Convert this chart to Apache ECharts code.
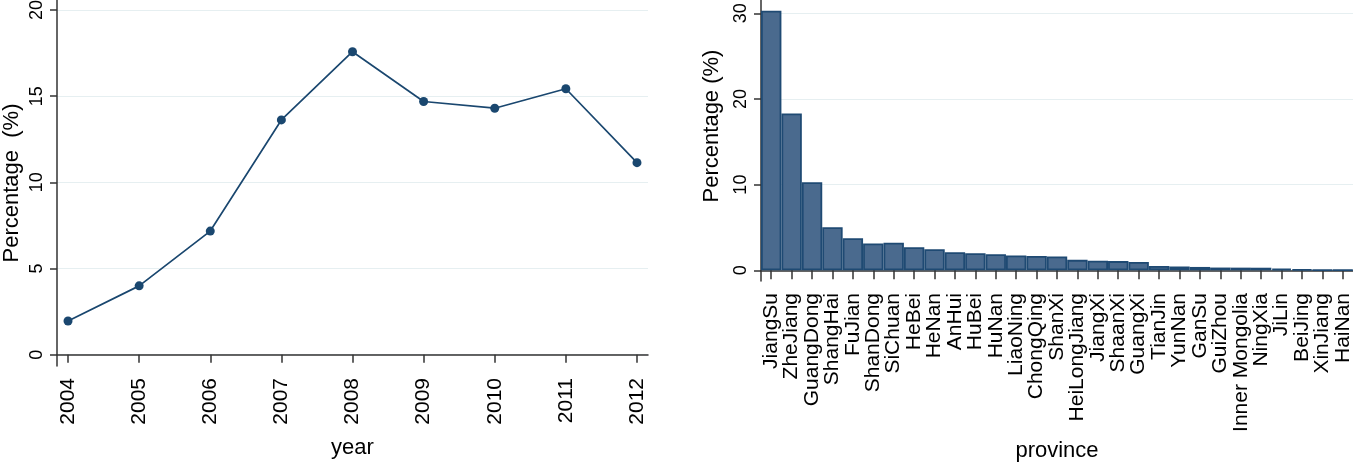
<!DOCTYPE html>
<html>
<head>
<meta charset="utf-8">
<script src="https://cdn.jsdelivr.net/npm/echarts@6/dist/echarts.min.js"></script>
<style>
html,body{margin:0;padding:0;background:#fff;}
#chart{width:1353px;height:462px;}
</style>
</head>
<body>
<div id="chart"></div>
<script>
const years = [2004, 2005, 2006, 2007, 2008, 2009, 2010, 2011, 2012];
const yearPct = [1.95, 3.99, 7.17, 13.62, 17.58, 14.69, 14.30, 15.43, 11.14];
const leftTicks = [0, 5, 10, 15, 20];

const provinces = ['JiangSu','ZheJiang','GuangDong','ShangHai','FuJian','ShanDong','SiChuan','HeBei','HeNan','AnHui','HuBei','HuNan','LiaoNing','ChongQing','ShanXi','HeiLongJiang','JiangXi','ShaanXi','GuangXi','TianJin','YunNan','GanSu','GuiZhou','Inner Mongolia','NingXia','JiLin','BeiJing','XinJiang','HaiNan'];
const provPct = [30.3, 18.3, 10.28, 5.02, 3.74, 3.13, 3.21, 2.70, 2.45, 2.12, 1.99, 1.87, 1.73, 1.67, 1.61, 1.22, 1.12, 1.07, 0.97, 0.50, 0.43, 0.39, 0.32, 0.31, 0.30, 0.19, 0.12, 0.05, 0.04];
const rightTicks = [0, 10, 20, 30];

const FONT = '"Liberation Sans", Arial, sans-serif';
const AX = '#333333';
const GRID = '#e6eff1';

const chart = echarts.init(document.getElementById('chart'), null, {renderer: 'canvas'});
chart.setOption({
  animation: false,
  backgroundColor: '#ffffff',
  textStyle: {fontFamily: FONT},
  grid: [
    {left: 57, top: 0, width: 591, height: 366, containLabel: false, outerBoundsMode: 'none'},
    {left: 761, top: 0, width: 592, height: 281, containLabel: false, outerBoundsMode: 'none'}
  ],
  xAxis: [
    {
      gridIndex: 0, type: 'value', min: 2003.845, max: 2012.155,
      axisLine: {show: true, lineStyle: {color: AX, width: 1.5}},
      axisTick: {show: true, length: 8, lineStyle: {color: AX, width: 1.5}, customValues: years},
      axisLabel: {customValues: years, rotate: 90, fontSize: 21, color: '#000', margin: 12, fontFamily: FONT, formatter: v => String(v)},
      splitLine: {show: false},
      name: 'year', nameLocation: 'middle', nameGap: 71,
      nameTextStyle: {fontSize: 22, color: '#000', fontFamily: FONT}
    },
    {
      gridIndex: 1, type: 'category', data: provinces, boundaryGap: true,
      axisLine: {show: true, lineStyle: {color: AX, width: 1.5}},
      axisTick: {show: true, alignWithLabel: true, length: 9, lineStyle: {color: AX, width: 1.5}},
      axisLabel: {interval: 0, rotate: 90, fontSize: 21, color: '#000', margin: 12, fontFamily: FONT},
      name: 'province', nameLocation: 'middle', nameGap: 157,
      nameTextStyle: {fontSize: 22, color: '#000', fontFamily: FONT}
    }
  ],
  yAxis: [
    {
      gridIndex: 0, type: 'value', min: -0.66, max: 20.58,
      axisLine: {show: true, lineStyle: {color: AX, width: 1.5}},
      axisTick: {show: true, length: 7, lineStyle: {color: AX, width: 1.5}, customValues: leftTicks},
      axisLabel: {customValues: leftTicks, rotate: 90, fontSize: 18, color: '#000', margin: 11, fontFamily: FONT},
      splitLine: {show: true, lineStyle: {color: GRID, width: 1.2}},
      name: 'Percentage  (%)', nameLocation: 'middle', nameRotate: 90, nameGap: 34,
      nameTextStyle: {fontSize: 22, color: '#000', fontFamily: FONT}
    },
    {
      gridIndex: 1, type: 'value', min: -1.25, max: 31.55,
      axisLine: {show: true, lineStyle: {color: AX, width: 1.5}},
      axisTick: {show: true, length: 7, lineStyle: {color: AX, width: 1.5}, customValues: rightTicks},
      axisLabel: {customValues: rightTicks, rotate: 90, fontSize: 18, color: '#000', margin: 11, fontFamily: FONT},
      splitLine: {show: true, lineStyle: {color: GRID, width: 1.2}},
      name: 'Percentage (%)', nameLocation: 'middle', nameRotate: 90, nameGap: 38,
      nameTextStyle: {fontSize: 22, color: '#000', fontFamily: FONT, padding: [0, 0, 0, 29]}
    }
  ],
  series: [
    {
      type: 'line', xAxisIndex: 0, yAxisIndex: 0,
      data: years.map((y, i) => [y, yearPct[i]]),
      symbol: 'circle', symbolSize: 9,
      lineStyle: {color: '#1a476f', width: 1.7},
      itemStyle: {color: '#1a476f'}
    },
    {
      type: 'bar', xAxisIndex: 1, yAxisIndex: 1,
      data: provPct, barCategoryGap: '0%',
      itemStyle: {color: '#4a6a8e', borderColor: '#1f4a73', borderWidth: 1.8}
    }
  ]
});
</script>
</body>
</html>
